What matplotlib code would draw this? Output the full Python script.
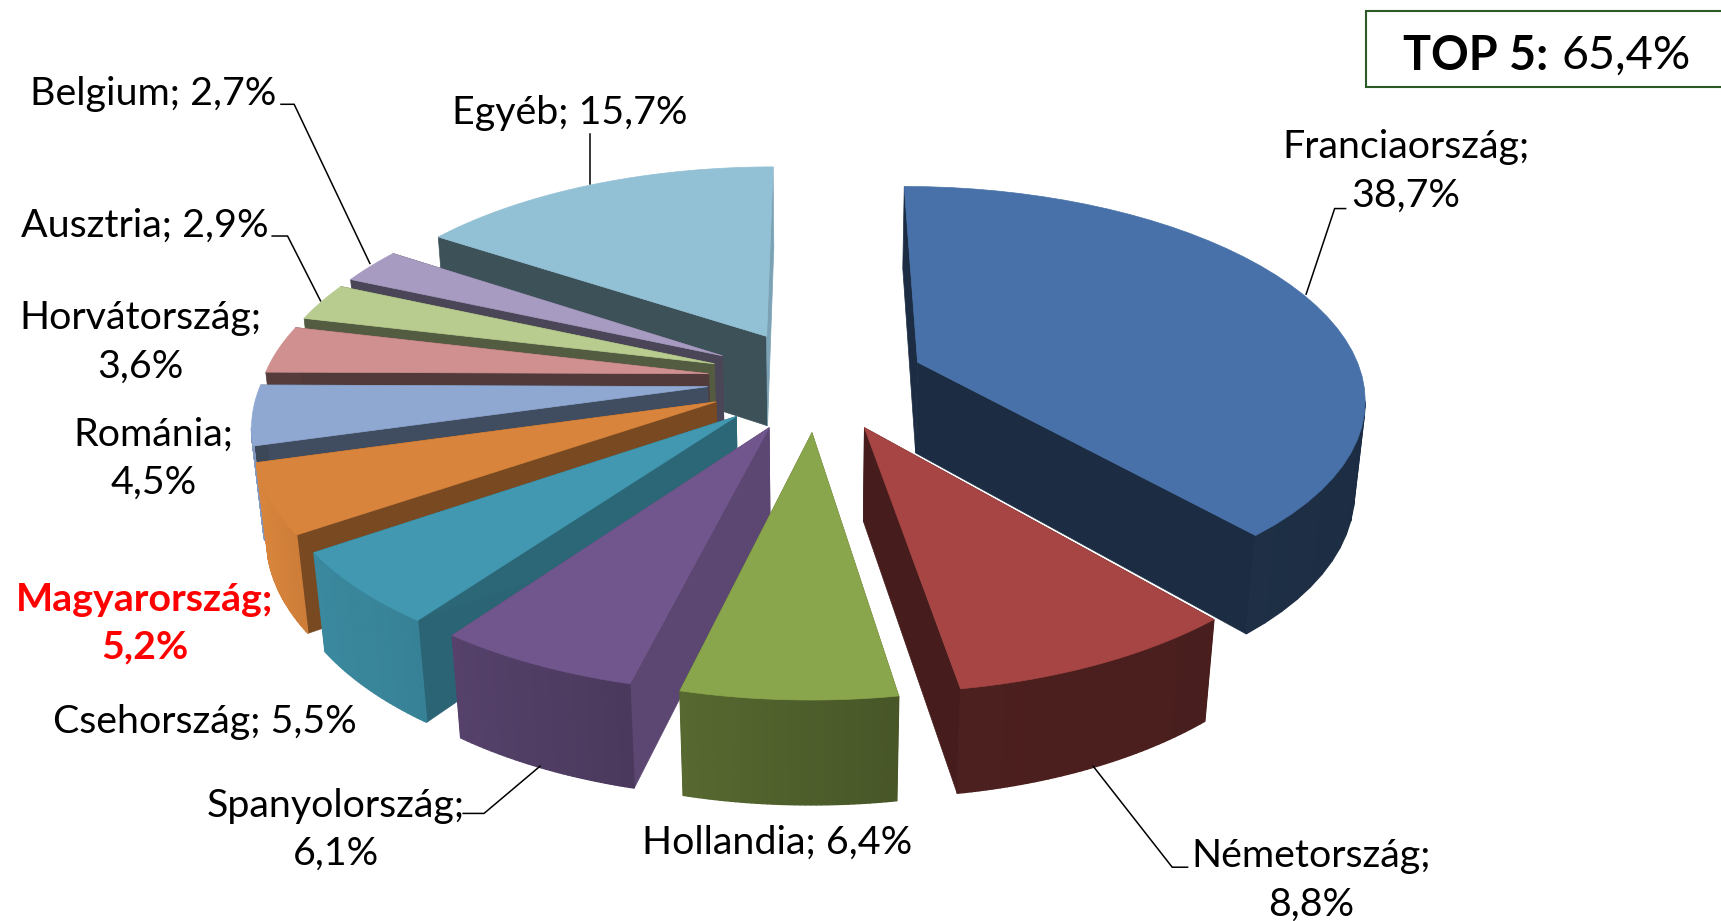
import numpy as np
import matplotlib
matplotlib.use("Agg")
import matplotlib.pyplot as plt
from matplotlib.colors import to_rgb
from matplotlib.patches import Polygon, Rectangle

# ---- data -------------------------------------------------------------
countries = ["Franciaország", "Németország", "Hollandia", "Spanyolország", "Csehország",
             "Magyarország", "Románia", "Horvátország", "Ausztria", "Belgium", "Egyéb"]
shares = [38.7, 8.8, 6.4, 6.1, 5.5, 5.2, 4.5, 3.6, 2.9, 2.7, 15.7]
top5_text = "65,4%"

# ---- styles -----------------------------------------------------------
top_colors = ["#4771A8", "#A64543", "#8AA64C", "#70568C", "#4198B0", "#D8843C",
              "#8FA8D2", "#D09090", "#B8CC90", "#A79BC1", "#92C0D5"]
wall_left = [0.42, 0.46, 0.63, 0.76, 0.90, 1.0, 0.9, 0.9, 0.9, 0.9, 0.9]
wall_right = [0.40, 0.44, 0.52, 0.66, 0.85, 0.95, 0.9, 0.9, 0.9, 0.9, 0.9]
cut_start = [0.40, 0.42, 0.55, 0.82, 0.66, 0.56, 0.42, 0.42, 0.45, 0.45, 0.42]
cut_end = [0.40, 0.42, 0.55, 0.82, 0.68, 0.56, 0.45, 0.40, 0.45, 0.45, 0.85]
label_pos = [(1281, 156), (1195, 802), (708, 768), (306, 756), (187, 658), (132, 568),
             (140, 418), (128, 312), (132, 206), (140, 86), (519, 103)]
label_wrap = [True, True, False, True, False, True, True, True, False, False, False]
leaders = [[(1226, 190), (1216, 190), (1190, 268)],
           [(1082, 790), (1068, 790), (996, 698)],
           [(422, 741), (441, 741), (492, 698)],
           [(248, 215), (262, 215), (292, 274)],
           [(256, 95), (268, 95), (337, 240)],
           [(538, 122), (538, 168)]]

# geometry of the projection (canvas units are the 1568x839 view)
CX, CY = 744, 346
RX, RY = 406, 189.4
P = 0.154       # perspective strength
Q = 0.02        # extra shrink towards the base
DEPTH = 85
EXPLODE = 0.245
W, H = 1568, 839


def project(x, y, z=0.0):
    s = 1.0 / (1.0 + P * y + Q * z)
    return CX + RX * x * s, CY - RY * y * s + DEPTH * z * s


def shade(col, f):
    return tuple(min(1, c * f) for c in to_rgb(col))


fig = plt.figure(figsize=(17.21, 9.21), dpi=100)
ax = fig.add_axes([0, 0, 1, 1])
ax.set_xlim(0, W)
ax.set_ylim(H, 0)
ax.axis("off")

fractions = np.array(shares) / np.sum(shares)
edges = np.concatenate([[0], np.cumsum(fractions)]) * 2 * np.pi
mids = (edges[:-1] + edges[1:]) / 2


def poly(pts, color, z, lw=0.5):
    ax.add_patch(Polygon(pts, closed=True, facecolor=color, edgecolor=color, lw=lw, zorder=z))


for rank, i in enumerate(np.argsort(-np.cos(mids))):
    a0, a1, am = edges[i], edges[i + 1], mids[i]
    ox, oy = EXPLODE * np.sin(am), EXPLODE * np.cos(am)
    th = np.linspace(a0, a1, 41)
    xs, ys = ox + np.sin(th), oy + np.cos(th)
    base = 10 + rank * 10
    col = top_colors[i]
    # cut faces
    for a, f in ((a0, cut_start[i]), (a1, cut_end[i])):
        ex, ey = ox + np.sin(a), oy + np.cos(a)
        poly([project(ox, oy, 0), project(ex, ey, 0), project(ex, ey, 1), project(ox, oy, 1)],
             shade(col, f), base)
    # rim: only the facets that face the viewer (top edge runs right to left)
    tops = [project(a, b, 0) for a, b in zip(xs, ys)]
    bots = [project(a, b, 1) for a, b in zip(xs, ys)]
    visible = [k for k in range(len(th) - 1) if tops[k + 1][0] < tops[k][0]]
    if visible:
        x_hi, x_lo = tops[visible[0]][0], tops[visible[-1] + 1][0]
        for k in visible:
            t = (tops[k][0] - x_lo) / max(x_hi - x_lo, 1e-6)
            f = wall_left[i] + (wall_right[i] - wall_left[i]) * t
            poly([tops[k], tops[k + 1], bots[k + 1], bots[k]], shade(col, f), base + 1, lw=1.0)
    # top face
    poly([project(ox, oy, 0)] + tops, col, base + 2)

plt.rcParams["font.family"] = ["Lato", "DejaVu Sans"]
FS = 28.4
for name, val, pos, wrap in zip(countries, shares, label_pos, label_wrap):
    sep = "\n" if wrap else " "
    txt = f"{name};{sep}{val:.1f}%".replace(".", ",")
    red = name == "Magyarország"
    ax.text(pos[0], pos[1], txt, ha="center", va="center", fontsize=FS, linespacing=1.42,
            color="#FF0000" if red else "black", fontweight="bold" if red else "normal", zorder=300)

for seg in leaders:
    ax.plot(*zip(*seg), color="black", lw=1.1, zorder=5 if len(seg) == 2 else 290,
            solid_joinstyle="miter")

ax.add_patch(Rectangle((1245, 10), 340, 69, facecolor="white", edgecolor="#2B5A26", lw=1.5, zorder=300))
ax.text(1411, 51, "TOP 5:", ha="right", va="center", fontsize=33.7, fontweight="bold", zorder=301)
ax.text(1423, 51, top5_text, ha="left", va="center", fontsize=33.7, zorder=301)

fig.savefig("out.png", dpi=100)
